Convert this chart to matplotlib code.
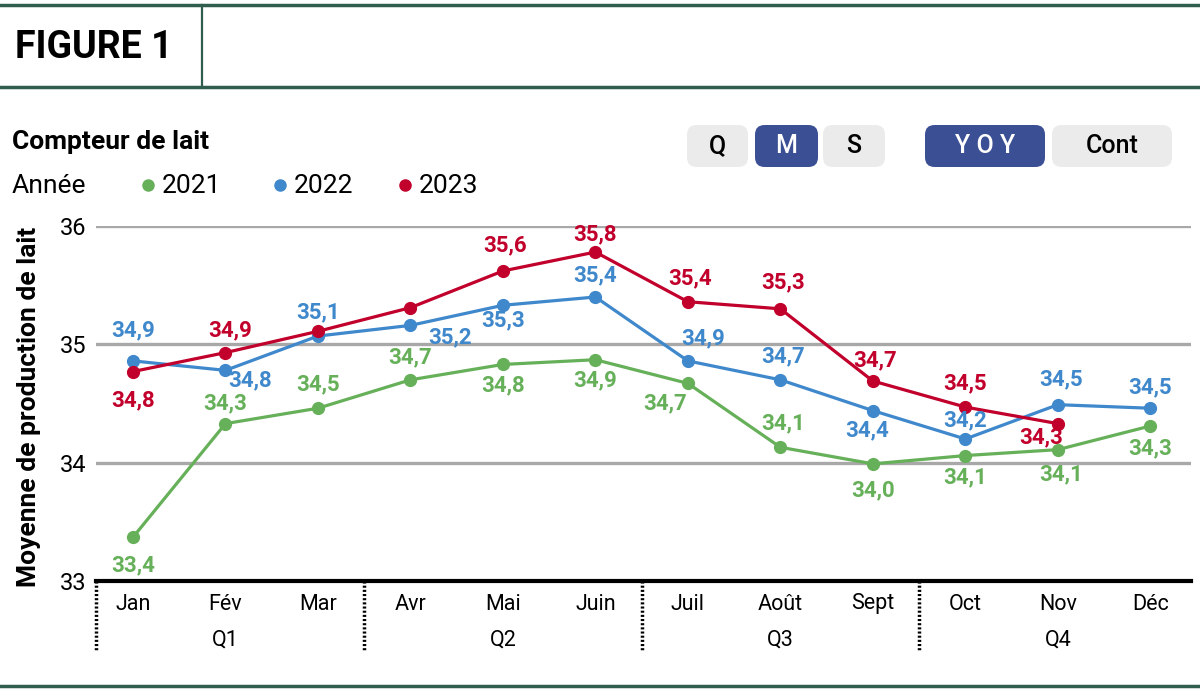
import matplotlib
matplotlib.use("Agg")
import matplotlib.pyplot as plt
from matplotlib.patches import FancyBboxPatch
from matplotlib.lines import Line2D

# ---------------- data ----------------
months = ["Jan", "Fév", "Mar", "Avr", "Mai", "Juin", "Juil", "Août", "Sept", "Oct", "Nov", "Déc"]
quarters = ["Q1", "Q2", "Q3", "Q4"]
years = ["2021", "2022", "2023"]
v2021 = [33.37, 34.33, 34.46, 34.70, 34.83, 34.87, 34.67, 34.13, 33.99, 34.06, 34.11, 34.31]
v2022 = [34.86, 34.78, 35.07, 35.16, 35.33, 35.40, 34.86, 34.70, 34.44, 34.20, 34.49, 34.46]
v2023 = [34.77, 34.93, 35.11, 35.31, 35.62, 35.78, 35.36, 35.30, 34.69, 34.47, 34.33]
yticks = [33, 34, 35, 36]
buttons = ["Q", "M", "S", "Y O Y", "Cont"]

# ---------------- style ----------------
FONT = ["Roboto", "DejaVu Sans"]
plt.rcParams['font.family'] = FONT
colors = {"2021": "#67b05a", "2022": "#3f88cc", "2023": "#c1002c"}
DARKGREEN = "#2f5e4f"

# label offsets in pixels (dx, dy up-positive); None = no label
off2021 = [(0, -28), (0, 20), (0, 24), (0, 22), (0, -21), (0, -21), (-23, -20), (3, 24),
           (0, -26), (0, -22), (3, -25), (0, -22)]
off2022 = [(0, 31), (25, -10), (0, 24), (40, -12), (0, -15), (0, 22), (15, 23), (3, 23),
           (-6, -20), (0, 19), (3, 25), (0, 21)]
off2023 = [(0, -29), (5, 22), None, None, (2, 26), (0, 18), (2, 23), (3, 26),
           (2, 21), (0, 24), (-17, -14)]

W, H = 1200, 692
fig = plt.figure(figsize=(W / 100, H / 100), dpi=100)

def fx(px):
    return px / W

def fy(py):
    return 1 - py / H

# header lines
fig.add_artist(Line2D([0, 1], [fy(5), fy(5)], color=DARKGREEN, lw=2.5))
fig.add_artist(Line2D([0, 1], [fy(87), fy(87)], color=DARKGREEN, lw=2.5))
fig.add_artist(Line2D([fx(202), fx(202)], [fy(5), fy(87)], color=DARKGREEN, lw=1.6))
fig.add_artist(Line2D([0, 1], [fy(686), fy(686)], color=DARKGREEN, lw=2.5))
fig.text(fx(15), fy(48), "FIGURE 1", fontsize=27, fontweight="bold", va="center", ha="left")

# legend area
fig.text(fx(12), fy(142), "Compteur de lait", fontsize=19, fontweight="bold", va="center", ha="left")
fig.text(fx(12), fy(186), "Année", fontsize=19, va="center", ha="left")
leg_x = [148, 280, 405]
for lx, yr in zip(leg_x, years):
    fig.add_artist(Line2D([fx(lx)], [fy(185)], marker="o", markersize=8, color=colors[yr], lw=0))
    fig.text(fx(lx + 14), fy(186), yr, fontsize=19, va="center", ha="left")

# buttons
btn_box = [(687, 748), (755, 818), (823, 885), (925, 1045), (1052, 1172)]
btn_active = [False, True, False, True, False]
for (x0, x1), lab, act in zip(btn_box, buttons, btn_active):
    y0, y1 = 125, 167
    p = FancyBboxPatch((fx(x0), fy(y1)), fx(x1 - x0), (y1 - y0) / H,
                       boxstyle="round,pad=0,rounding_size=0.008",
                       transform=fig.transFigure, facecolor="#3b4f94" if act else "#ebebeb",
                       edgecolor="none", mutation_aspect=W / H)
    fig.add_artist(p)
    fig.text(fx((x0 + x1) / 2), fy(146), lab, fontsize=18, fontweight="medium",
             color="white" if act else "black", ha="center", va="center")

# main axes
ax = fig.add_axes([fx(96), fy(581), fx(1191 - 96), (581 - 226) / H])
x = list(range(len(months)))
ax.set_xlim(-0.4, 11.44)
ax.set_ylim(33, 36)
for s in ax.spines.values():
    s.set_visible(False)
ax.set_yticks(yticks)
ax.set_yticklabels([str(t) for t in yticks], fontsize=17)
ax.tick_params(axis="y", length=0, pad=7)
ax.set_xticks([])
for t in yticks[1:]:
    ax.axhline(t, color="#a8a8a8", lw=2.4, zorder=1)
ax.axhline(33, color="black", lw=3, zorder=2, clip_on=False)

series = [("2021", v2021, off2021), ("2022", v2022, off2022), ("2023", v2023, off2023)]
for yr, vals, offs in series:
    xs = x[:len(vals)]
    ax.plot(xs, vals, color=colors[yr], lw=2.3, marker="o", markersize=8.5, zorder=3,
            clip_on=False)
    for xi, v, o in zip(xs, vals, offs):
        if o is None:
            continue
        ax.annotate(f"{v:.1f}".replace(".", ","), (xi, v), xytext=(o[0] * 0.72, o[1] * 0.72),
                    textcoords="offset points", ha="center", va="center",
                    fontsize=16, fontweight="bold", color=colors[yr], zorder=4)

ax.set_ylabel("Moyenne de production de lait", fontsize=19, fontweight="bold")
ax.yaxis.set_label_coords(-0.050, 0.49)

# month / quarter labels
trans = ax.get_xaxis_transform()
for xi, m in enumerate(months):
    ax.annotate(m, (xi, 0), xycoords=trans, xytext=(0, -23 * 0.72), textcoords="offset points",
                ha="center", va="center", fontsize=15.5, annotation_clip=False)
for qi, q in enumerate(quarters):
    ax.annotate(q, (qi * 3 + 1, 0), xycoords=trans, xytext=(0, -59 * 0.72), textcoords="offset points",
                ha="center", va="center", fontsize=15.5, annotation_clip=False)
for sx in [-0.4, 2.5, 5.5, 8.5]:
    ax.plot([sx, sx], [0, -69 / 355], transform=trans, color="black", lw=2.5,
            linestyle=(0, (0.6, 0.6)), clip_on=False, zorder=2)

fig.savefig("out.png", dpi=100)
